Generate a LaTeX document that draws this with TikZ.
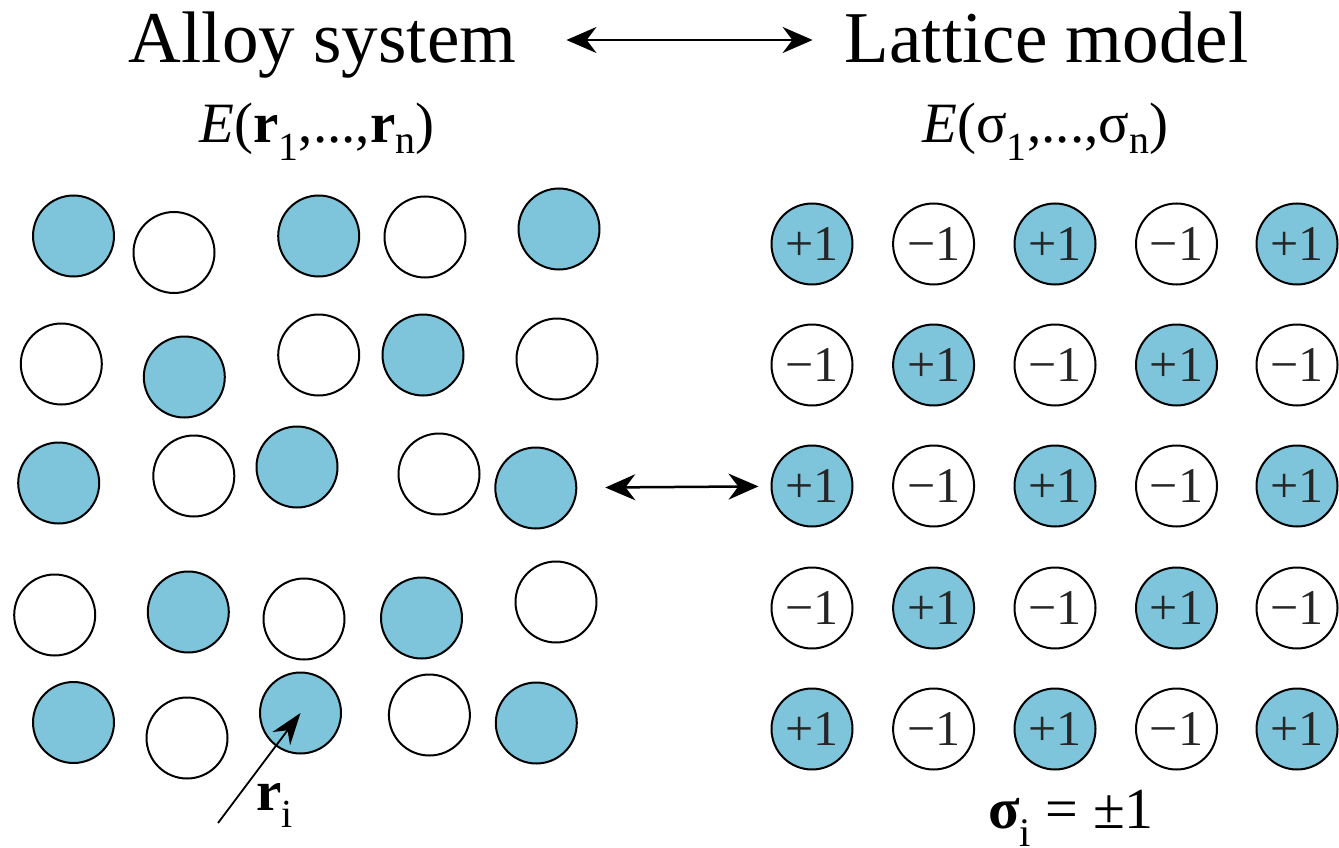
\documentclass[tikz,border=0pt]{standalone}
\usepackage{fontspec}
\setmainfont{Liberation Serif}
\usepackage{tikz}
\usetikzlibrary{arrows.meta}
\definecolor{atomblue}{RGB}{126,196,218}

\begin{document}
\begin{tikzpicture}[
    x=1pt,y=-1pt,
    heading/.style={inner sep=0pt, anchor=base, font=\fontsize{73}{80}\selectfont},
    eform/.style={inner sep=0pt, anchor=base, font=\fontsize{57}{62}\selectfont},
    atom/.style={circle, draw, line width=2pt, minimum size=81pt, inner sep=0pt},
    solute/.style={atom, fill=atomblue},
    solvent/.style={atom, fill=white},
    spin/.style={circle, draw, line width=2pt, minimum size=81pt, inner sep=0pt,
                 font=\fontsize{50}{50}\selectfont, text=black!85},
    spinup/.style={spin, fill=atomblue},
    spindn/.style={spin, fill=white},
    dbl/.style={{Stealth[length=30pt,width=26pt]}-{Stealth[length=30pt,width=26pt]}, line width=2.5pt},
    arrow/.style={-{Stealth[length=32pt,width=22pt]}, line width=1.8pt}
]
\useasboundingbox (0,0) rectangle (1339,848);

% Headings
\node[heading] (alloy) at (322.6,63) {Alloy system};
\node[heading] (lattice) at (1046.5,63) {Lattice model};
\draw[dbl, shorten <=50pt, shorten >=32pt] ([yshift=23pt]alloy.base east) -- ([yshift=23pt]lattice.base west);
\node[eform] (ealloy) at (317,143) {\textit{E}(\textbf{r}\textsubscript{1},...,\textbf{r}\textsubscript{n})};
\node[eform] (elattice) at (1045.5,143) {\textit{E}(σ\textsubscript{1},...,σ\textsubscript{n})};

% Alloy system (atoms off their sites)
\node[solute]  (a11) at (73.5,236) {};
\node[solvent] (a12) at (174,252.5) {};
\node[solute]  (a13) at (318.7,236) {};
\node[solvent] (a14) at (425,237) {};
\node[solute]  (a15) at (559,229) {};
\node[solvent] (a21) at (61.3,364) {};
\node[solute]  (a22) at (184.3,377) {};
\node[solvent] (a23) at (318.7,355) {};
\node[solute]  (a24) at (423,355) {};
\node[solvent] (a25) at (557,359) {};
\node[solute]  (a31) at (58.7,483) {};
\node[solvent] (a32) at (193.8,476) {};
\node[solute]  (a33) at (297,467) {};
\node[solvent] (a34) at (439,474) {};
\node[solute]  (a35) at (535.8,488) {};
\node[solvent] (a41) at (54.7,615) {};
\node[solute]  (a42) at (188.3,612) {};
\node[solvent] (a43) at (304,619) {};
\node[solute]  (a44) at (421.5,618) {};
\node[solvent] (a45) at (556,602) {};
\node[solute]  (a51) at (73.5,722.5) {};
\node[solvent] (a52) at (187,738) {};
\node[solute]  (a53) at (300.5,713) {};
\node[solvent] (a54) at (429.4,715) {};
\node[solute]  (a55) at (536.3,723) {};

% Position vector
\coordinate (rtail) at (218,823);
\draw[arrow] (rtail) -- (a53.center);
\node[eform, anchor=base west] (rlab) at (256,810) {\textbf{r}\textsubscript{i}};

% Lattice model (spins on sites)
\node[spinup] (s11) at (812,244) {+1};
\node[spindn] (s12) at (933.6,244) {−1};
\node[spinup] (s13) at (1055,244) {+1};
\node[spindn] (s14) at (1176.5,244) {−1};
\node[spinup] (s15) at (1297,244) {+1};
\node[spindn] (s21) at (812,365) {−1};
\node[spinup] (s22) at (933.6,365) {+1};
\node[spindn] (s23) at (1055,365) {−1};
\node[spinup] (s24) at (1176.5,365) {+1};
\node[spindn] (s25) at (1297,365) {−1};
\node[spinup] (s31) at (812,486) {+1};
\node[spindn] (s32) at (933.6,486) {−1};
\node[spinup] (s33) at (1055,486) {+1};
\node[spindn] (s34) at (1176.5,486) {−1};
\node[spinup] (s35) at (1297,486) {+1};
\node[spindn] (s41) at (812,608) {−1};
\node[spinup] (s42) at (933.6,608) {+1};
\node[spindn] (s43) at (1055,608) {−1};
\node[spinup] (s44) at (1176.5,608) {+1};
\node[spindn] (s45) at (1297,608) {−1};
\node[spinup] (s51) at (812,729) {+1};
\node[spindn] (s52) at (933.6,729) {−1};
\node[spinup] (s53) at (1055,729) {+1};
\node[spindn] (s54) at (1176.5,729) {−1};
\node[spinup] (s55) at (1297,729) {+1};
\draw[dbl, shorten <=28pt, shorten >=12pt] (a35) -- (s31);
\node[eform, font=\fontsize{58}{62}\selectfont] (sigmalab) at (1071,828) {\textbf{σ}\textsubscript{i} = ±1};
\end{tikzpicture}
\end{document}
